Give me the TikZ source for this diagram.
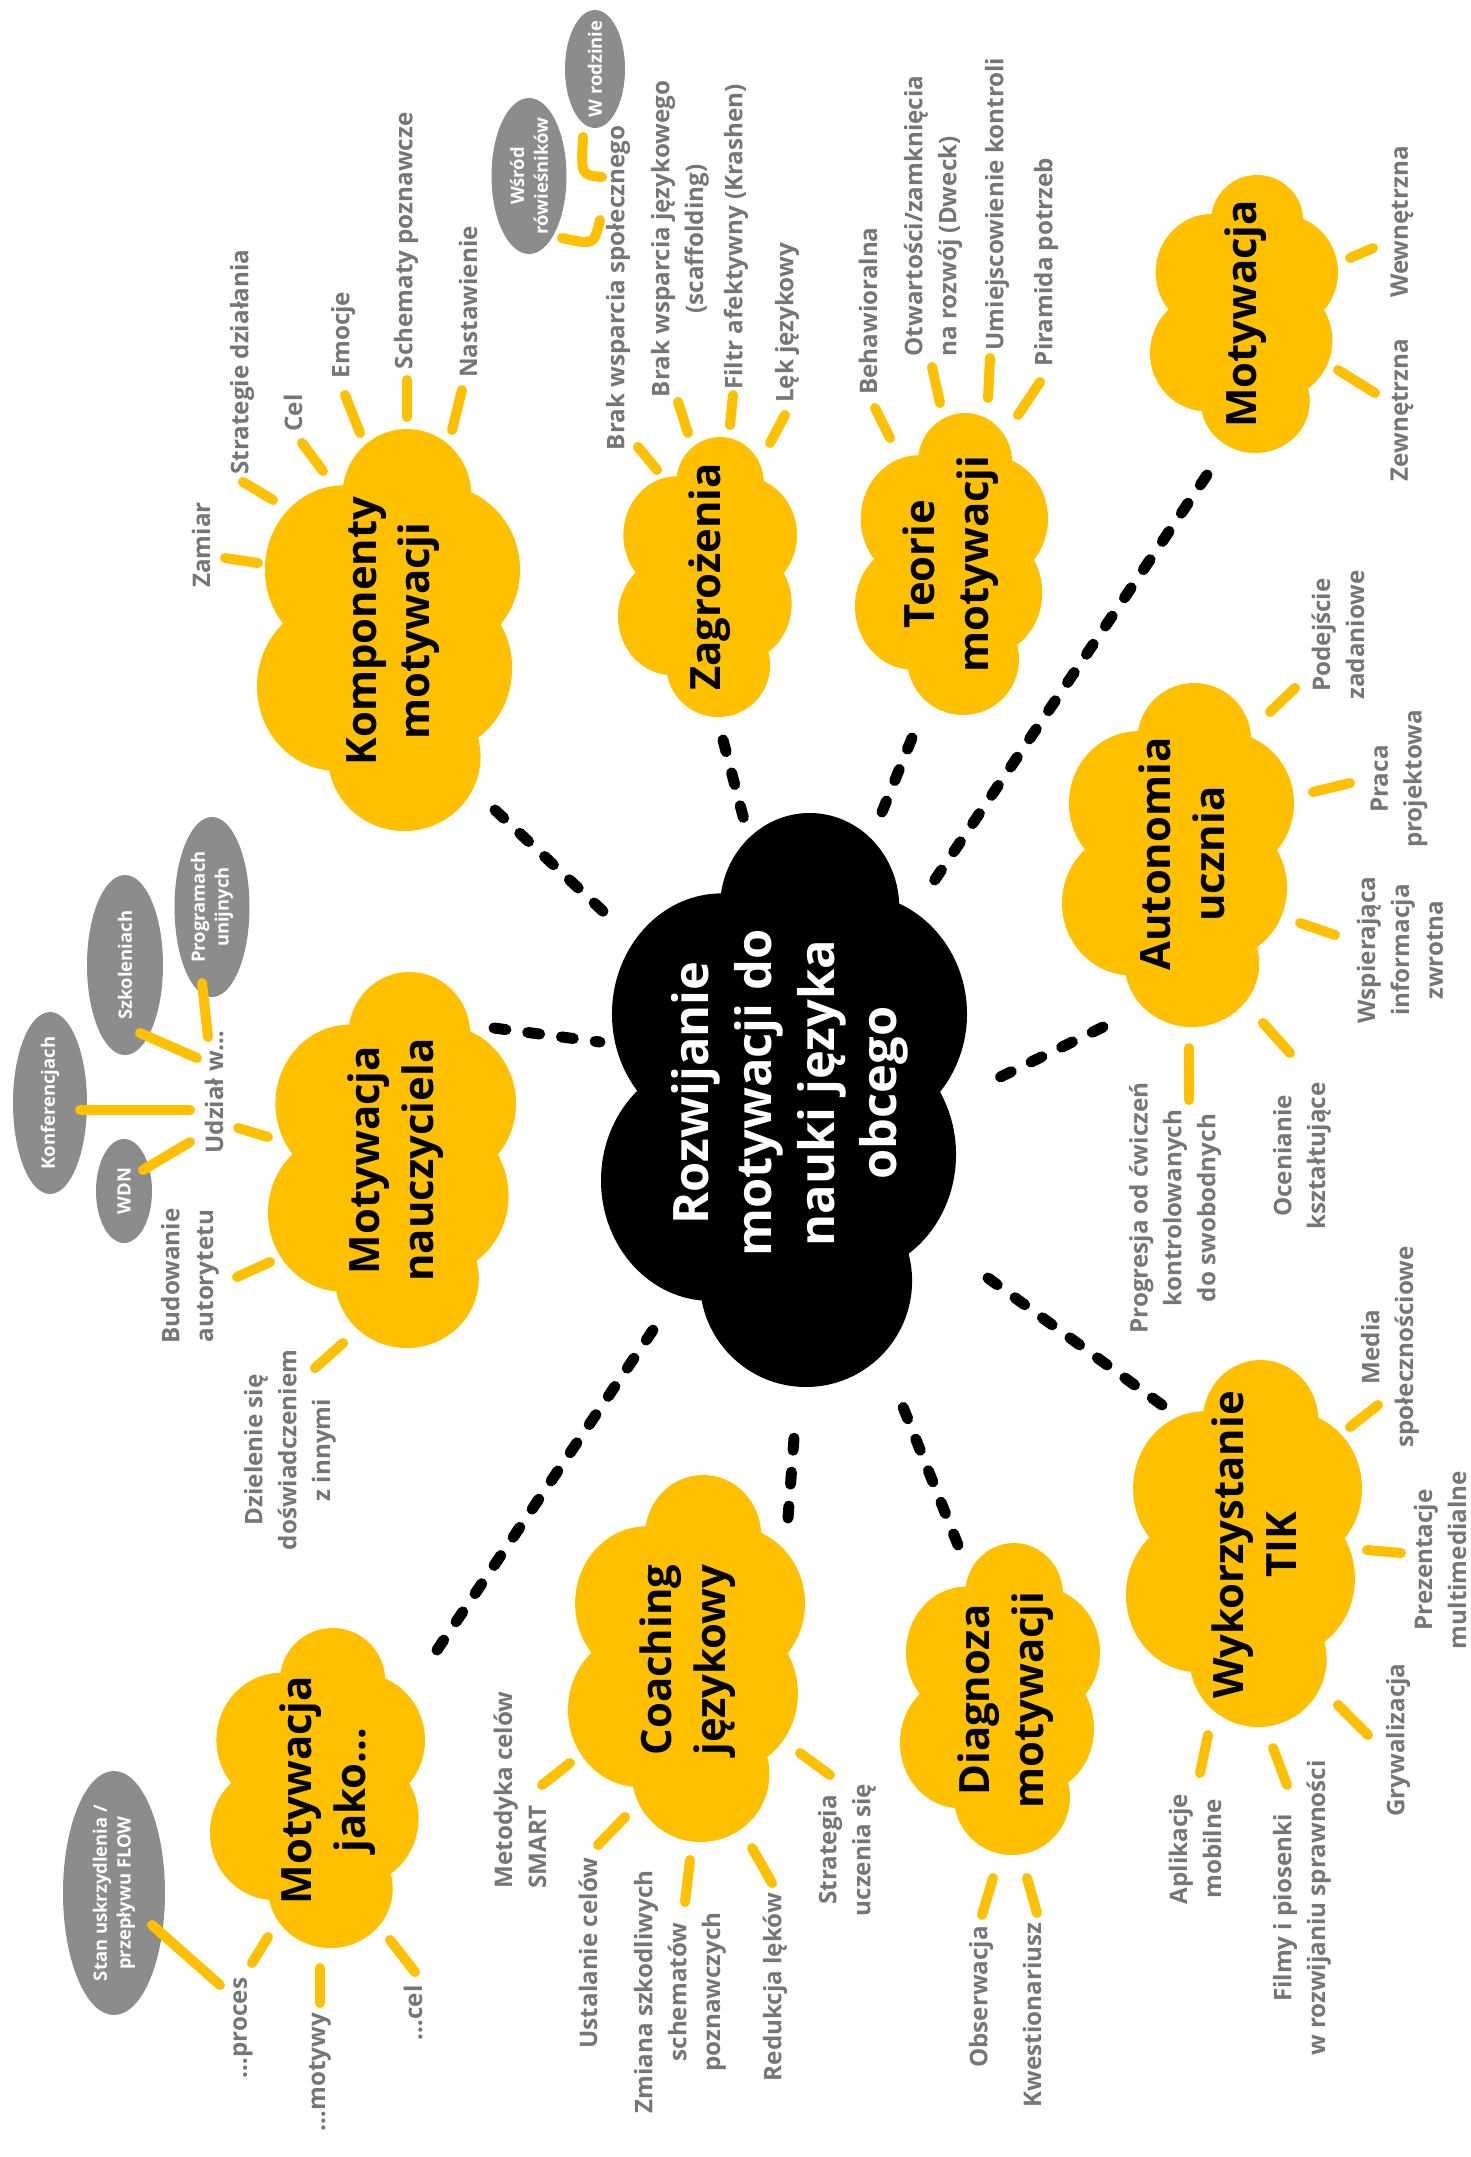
\documentclass[tikz,border=0pt]{standalone}
\usepackage{fontspec}
\setmainfont{Open Sans}
\usetikzlibrary{calc}
\definecolor{ygold}{HTML}{FFC000}
\definecolor{lgray}{RGB}{118,118,118}
\definecolor{egray}{RGB}{140,140,140}
\newcommand{\lblfont}{\fontsize{24.3}{34}\selectfont\bfseries}
\newcommand{\ttlfont}{\fontsize{42}{54}\selectfont\bfseries}
\newcommand{\ctrfont}{\fontsize{49}{63}\selectfont\bfseries}
\newcommand{\efont}{\fontsize{18.5}{24}\selectfont\bfseries}
\tikzset{
  spoke/.style={draw=ygold, line width=10bp, line cap=round},
  dashconn/.style={draw=black, line width=11bp, line cap=round, dash pattern=on 12bp off 22bp},
  lbl/.style={rotate=90, text=lgray, font=\lblfont, align=center, inner sep=0pt},
  ttl/.style={rotate=90, text=black, font=\ttlfont, align=center, inner sep=0pt},
  ctr/.style={rotate=90, text=white, font=\ctrfont, align=center, inner sep=0pt},
  etext/.style={rotate=90, text=white, font=\efont, align=center, inner sep=0pt},
}
\newcommand{\cloudshape}[6]{%
  \foreach \u/\v/\ru/\rv in {0.57/0.165/0.245/0.165, 0.33/0.35/0.30/0.21, 0.69/0.35/0.31/0.21, 0.30/0.64/0.30/0.21, 0.67/0.595/0.30/0.21, 0.56/0.815/0.29/0.185, 0.5/0.5/0.3/0.3}{
    \fill[#6] ({#2+\u*(#4-#2)},{#3+\v*(#5-#3)}) ellipse [x radius={\ru*(#4-#2)*1bp}, y radius={\rv*(#5-#3)*1bp}];
  }
  \node[inner sep=0pt, minimum width={(#4-#2)*1bp}, minimum height={(#5-#3)*1bp}] (#1) at ({(#2+#4)/2},{(#3+#5)/2}) {};
}
\newcommand{\spk}[3]{\coordinate (#1a) at (#2); \coordinate (#1b) at (#3); \draw[spoke] (#1a) -- (#1b);}
\newcommand{\dsh}[3]{\coordinate (#1a) at (#2); \coordinate (#1b) at (#3); \draw[dashconn] (#1a) -- (#1b);}
\newcommand{\grayell}[6]{\fill[egray] (#2,#3) ellipse [x radius=#4bp, y radius=#5bp]; \node[etext] (#1) at (#2,#3) {#6};}
\begin{document}
\begin{tikzpicture}[x=1bp, y=-1bp]
\useasboundingbox (0,0) rectangle (1471,2157);
\fill[white] (0,0) rectangle (1471,2157);

% clouds
\cloudshape{kompC}{257}{429}{520}{831}{ygold}
\cloudshape{zagrC}{618}{437}{797}{717}{ygold}
\cloudshape{teorC}{855}{413}{1048}{715}{ygold}
\cloudshape{motwC}{1150}{175}{1338}{453}{ygold}
\cloudshape{autoC}{1062}{683}{1294}{1027}{ygold}
\cloudshape{nauczC}{268}{972}{516}{1348}{ygold}
\cloudshape{centC}{601}{813}{967}{1387}{black}
\cloudshape{tikC}{1126}{1360}{1362}{1727}{ygold}
\cloudshape{diagC}{900}{1543}{1100}{1855}{ygold}
\cloudshape{coachC}{568}{1475}{805}{1842}{ygold}
\cloudshape{jakoC}{210}{1628}{425}{1948}{ygold}

% titles
\node[ttl] (komp) at (393,631) {Komponenty\\motywacji};
\node[ttl] (zagr) at (710,577) {Zagrożenia};
\node[ttl] (teor) at (951,564) {Teorie\\motywacji};
\node[ttl] (motw) at (1246,314) {Motywacja};
\node[ttl] (auto) at (1182,854) {Autonomia\\ucznia};
\node[ttl] (naucz) at (396,1160) {Motywacja\\nauczyciela};
\node[ctr] (cent) at (790,1093) {Rozwijanie\\motywacji do\\nauki języka\\obcego};
\node[ttl] (tik) at (1254,1545) {Wykorzystanie\\TIK};
\node[ttl] (diag) at (1006,1700) {Diagnoza\\motywacji};
\node[ttl] (coach) at (688,1660) {Coaching\\językowy};
\node[ttl] (jako) at (328,1790) {Motywacja\\jako…};

% dashed connectors
\dsh{d1}{495,810}{607,915}
\dsh{d2}{723,740}{744,820}
\dsh{d3}{912,738}{882,812}
\dsh{d4}{1207,475}{930,887}
\dsh{d5}{1103,1027}{990,1082}
\dsh{d6}{1162,1405}{988,1278}
\dsh{d7}{958,1545}{903,1407}
\dsh{d8}{788,1518}{794,1438}
\dsh{d9}{437,1650}{653,1330}
\dsh{d10}{494,1028}{600,1042}

% grey ellipses
\grayell{wrodz}{595}{69}{30}{59}{W rodzinie}
\grayell{wsrod}{529}{176}{37.5}{78}{Wśród\\rówieśników}
\grayell{szkol}{125}{965}{38}{90}{Szkoleniach}
\grayell{progu}{212}{907}{37.5}{90}{Programach\\unijnych}
\grayell{konf}{50}{1103}{37}{91}{Konferencjach}
\grayell{wdn}{124}{1191}{28}{52}{WDN}
\grayell{flow}{114}{1893}{51}{122}{Stan uskrzydlenia /\\przepływu FLOW}

% labels
\node[lbl] (zamiar) at (201,545) {Zamiar};
\node[lbl] (strat) at (242,362) {Strategie działania};
\node[lbl] (cel1) at (293,413) {Cel};
\node[lbl] (emocje) at (343,335) {Emocje};
\node[lbl] (schem) at (406,241) {Schematy poznawcze};
\node[lbl] (nast) at (468,302) {Nastawienie};

\node[lbl] (bspol) at (618,288) {Brak wsparcia społecznego};
\node[lbl] (bjez) at (680,239) {Brak wsparcia językowego\\(scaffolding)};
\node[lbl] (filtr) at (736,237) {Filtr afektywny (Krashen)};
\node[lbl] (lek) at (787,323) {Lęk językowy};

\node[lbl] (behaw) at (868,311) {Behawioralna};
\node[lbl, align=left] (otw) at (933,216) {Otwartości/zamknięcia\\na rozwój (Dweck)};
\node[lbl] (umiej) at (997,204) {Umiejscowienie kontroli};
\node[lbl] (piram) at (1046,262) {Piramida potrzeb};

\node[lbl] (wewn) at (1402,222) {Wewnętrzna};
\node[lbl] (zewn) at (1402,410) {Zewnętrzna};

\node[lbl] (podej) at (1338,635) {Podejście\\zadaniowe};
\node[lbl] (praca) at (1399,779) {Praca\\projektowa};
\node[lbl] (wspier) at (1400,950) {Wspierająca\\informacja\\zwrotna};
\node[lbl] (ocen) at (1302,1156) {Ocenianie\\kształtujące};
\node[lbl] (progr) at (1175,1208) {Progresja od ćwiczeń\\kontrolowanych\\do swobodnych};

\node[lbl] (media) at (1390,1347) {Media\\społecznościowe};
\node[lbl] (prez) at (1440,1560) {Prezentacje\\multimedialne};
\node[lbl] (gryw) at (1398,1740) {Grywalizacja};
\node[lbl] (filmy) at (1302,1908) {Filmy i piosenki\\w rozwijaniu sprawności};
\node[lbl] (aplik) at (1195,1849) {Aplikacje\\mobilne};

\node[lbl] (obs) at (981,1997) {Obserwacja};
\node[lbl] (kwest) at (1032,2015) {Kwestionariusz};

\node[lbl, align=left] (metod) at (520,1790) {Metodyka celów\\SMART};
\node[lbl] (ustal) at (588,1953) {Ustalanie celów};
\node[lbl] (zmiana) at (680,1992) {Zmiana szkodliwych\\schematów\\poznawczych};
\node[lbl] (reduk) at (775,1987) {Redukcja lęków};
\node[lbl] (strat2) at (847,1850) {Strategia\\uczenia się};

\node[lbl] (proces) at (243,2028) {…proces};
\node[lbl] (motywy) at (320,2072) {…motywy};
\node[lbl] (celj) at (413,2013) {…cel};

\node[lbl] (udzial) at (214,1092) {Udział w…};
\node[lbl] (budow) at (190,1276) {Budowanie\\autorytetu};
\node[lbl] (dziel) at (290,1450) {Dzielenie się\\doświadczeniem\\z innymi};

% spokes
\spk{s1}{225,558}{258,563}
\spk{s2}{243,482}{273,500}
\spk{s3}{302,443}{323,471}
\spk{s4}{345,395}{360,433}
\spk{s5}{407,380}{407,417}
\spk{s6}{462,390}{452,430}
\spk{s7}{638,447}{657,470}
\spk{s8}{678,402}{688,433}
\spk{s9}{733,395}{730,425}
\spk{s10}{785,415}{770,443}
\spk{s11}{875,408}{890,438}
\spk{s12}{932,367}{940,403}
\spk{s13}{990,358}{988,398}
\spk{s14}{1040,382}{1018,415}
\spk{s15}{1373,248}{1350,258}
\spk{s16}{1338,370}{1375,393}
\spk{s17}{1270,712}{1295,688}
\spk{s18}{1313,792}{1350,783}
\spk{s19}{1300,923}{1335,935}
\spk{s20}{1263,1023}{1290,1053}
\spk{s21}{1189,1048}{1189,1100}
\spk{s22}{1350,1427}{1378,1405}
\spk{s23}{1367,1550}{1401,1553}
\spk{s24}{1338,1705}{1368,1735}
\spk{s25}{1273,1748}{1287,1785}
\spk{s26}{1208,1735}{1200,1773}
\spk{s27}{993,1878}{982,1915}
\spk{s28}{1027,1878}{1037,1913}
\spk{s29}{570,1763}{542,1785}
\spk{s30}{625,1817}{598,1845}
\spk{s31}{690,1860}{685,1902}
\spk{s32}{752,1848}{772,1883}
\spk{s33}{800,1753}{830,1775}
\spk{s34}{268,1937}{252,1963}
\spk{s35}{320,1968}{320,2003}
\spk{s36}{390,1940}{415,1972}
\spk{s37}{152,1925}{220,1985}
\spk{s38}{238,1128}{268,1137}
\spk{s39}{237,1277}{270,1262}
\spk{s40}{315,1368}{343,1343}
\spk{s41}{140,1033}{197,1058}
\spk{s42}{202,983}{208,1037}
\spk{s43}{80,1110}{190,1110}
\spk{s44}{143,1170}{190,1142}
% curved connectors to family / peers
\coordinate (c1a) at (583,137); \coordinate (c1b) at (602,177);
\draw[spoke] (c1a) .. controls (581,175) .. (c1b);
\coordinate (c2a) at (600,220); \coordinate (c2b) at (562,238);
\draw[spoke] (c2a) .. controls (594,245) .. (c2b);
\end{tikzpicture}
\end{document}
